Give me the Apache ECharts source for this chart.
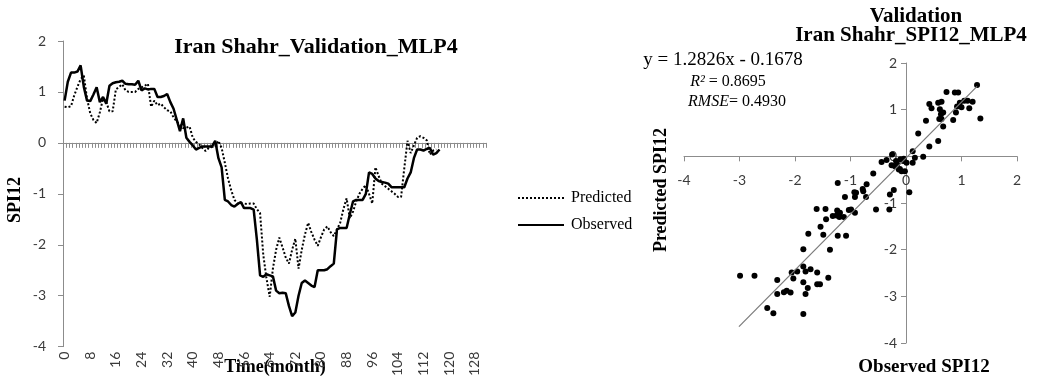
<!DOCTYPE html>
<html>
<head>
<meta charset="utf-8">
<script src="https://cdn.jsdelivr.net/npm/echarts@6/dist/echarts.min.js"></script>
<style>
html,body{margin:0;padding:0;background:#fff;}
#chart{width:1048px;height:379px;}
</style>
</head>
<body>
<div id="chart"></div>
<script>
// ---- Time series (left chart) ----
var monthCount = 132; // category slots 0..131 on the time axis
var observed = [0.83,1.20,1.38,1.38,1.40,1.52,1.10,0.83,0.82,0.95,1.09,0.80,0.90,0.77,1.12,1.17,1.19,1.20,1.22,1.16,
1.15,1.15,1.14,1.22,1.03,1.07,1.05,1.06,1.06,0.90,0.90,0.92,0.96,0.80,0.67,0.45,0.23,0.48,0.10,0.02,
-0.05,-0.13,-0.10,-0.07,-0.07,-0.07,-0.07,0.04,-0.30,-0.48,-1.12,-1.15,-1.22,-1.25,-1.20,-1.16,-1.28,-1.28,-1.28,-1.31,
-1.90,-2.60,-2.63,-2.58,-2.60,-2.62,-2.90,-2.95,-2.94,-2.95,-3.20,-3.40,-3.33,-3.00,-2.75,-2.70,-2.75,-2.80,-2.83,-2.50,
-2.50,-2.50,-2.48,-2.42,-2.37,-1.70,-1.67,-1.67,-1.67,-1.40,-1.15,-1.12,-1.12,-1.12,-1.00,-0.58,-0.61,-0.70,-0.75,-0.77,
-0.78,-0.80,-0.87,-0.87,-0.87,-0.87,-0.87,-0.70,-0.58,-0.30,-0.13,-0.13,-0.15,-0.12,-0.10,-0.23,-0.20,-0.13];
var predicted = [0.71,0.70,0.72,0.93,1.10,1.25,1.32,0.87,0.58,0.45,0.39,0.60,0.87,0.80,0.62,0.62,1.05,1.10,1.15,1.03,
1.00,1.00,1.00,1.06,1.09,1.12,1.16,0.71,0.83,0.74,0.77,0.70,0.64,0.62,0.50,0.42,0.35,0.29,0.30,0.32,
0.10,0.02,-0.03,-0.10,-0.16,-0.10,-0.08,-0.06,0.04,-0.10,-0.39,-0.70,-0.93,-1.12,-1.19,-1.19,-1.19,-1.20,-1.19,-1.19,
-1.30,-1.38,-2.20,-2.66,-3.02,-2.47,-2.10,-1.86,-2.05,-2.25,-2.37,-2.10,-1.88,-2.47,-2.10,-1.80,-1.57,-1.75,-1.90,-2.02,
-1.85,-1.70,-1.64,-1.75,-1.83,-1.70,-1.57,-1.30,-1.09,-1.48,-1.35,-1.15,-1.00,-0.90,-0.83,-1.00,-1.19,-0.48,-0.65,-0.80,
-0.85,-0.90,-0.95,-1.00,-1.06,-1.06,-0.50,0.04,-0.20,-0.05,0.10,0.13,0.10,0.05,-0.23,-0.15,-0.13];
var timeTicks = [-4,-3,-2,-1,0,1,2];

// ---- Scatter (right chart) ----
var scatterX = [-2.99,-2.73,-2.32,-2.32,-2.50,-2.39,-2.20,-2.15,-2.08,-2.06,-2.03,-1.96,-1.85,-1.85,-1.85,-1.85,-1.81,-1.81,-1.77,-1.72,
-1.76,-1.60,-1.60,-1.55,-1.40,-1.61,-1.45,-1.54,-1.49,-1.37,-1.44,-1.32,-1.25,-1.20,-1.24,-1.19,-1.12,-1.23,-1.08,-1.23,
-1.10,-1.03,-0.99,-0.92,-0.93,-0.90,-0.92,-0.78,-0.77,-0.72,-0.71,-0.59,-0.54,-0.30,-0.29,-0.22,-0.44,-0.35,-0.25,-0.26,
-0.18,-0.16,-0.13,-0.10,-0.05,-0.08,-0.02,0.06,0.12,-0.20,-0.04,0.01,-0.11,
1.28,0.73,0.88,0.94,0.42,0.46,0.58,0.64,0.61,0.63,0.64,0.67,0.60,0.85,0.90,0.92,0.97,1.00,1.05,1.11,1.14,1.20,1.34,0.36,0.67,0.22,0.58,0.42,0.12,0.31,0.16];
var scatterY = [-2.56,-2.56,-2.65,-2.95,-3.25,-3.36,-2.91,-2.88,-2.92,-2.49,-2.62,-2.47,-1.99,-2.36,-2.70,-3.38,-2.47,-2.95,-2.82,-2.42,
-1.66,-2.49,-2.74,-2.74,-2.60,-1.13,-1.13,-1.51,-1.68,-2.00,-1.35,-1.28,-1.27,-1.30,-1.16,-1.21,-1.30,-1.70,-1.70,-0.57,
-0.87,-1.15,-1.14,-1.21,-0.77,-0.78,-0.87,-0.70,-0.75,-0.87,-0.60,-0.37,-1.14,-1.14,-0.82,-0.72,-0.12,-0.08,0.04,-0.19,
-0.10,-0.17,-0.28,-0.06,-0.10,-0.32,-0.32,-0.77,-0.14,-0.21,-0.05,-0.14,-0.27,
1.53,1.38,1.37,1.37,1.12,1.03,1.15,1.17,1.01,0.90,0.80,0.94,0.80,0.78,0.94,1.07,1.15,1.05,1.19,1.19,1.03,1.17,0.81,0.76,0.64,0.49,0.33,0.21,0.11,-0.01,-0.03];
var trendX = [-3.01, 1.28];
var trendY = [-3.65, 1.50];
var scatterTicksX = [-4,-3,-2,-1,0,1,2];
var scatterTicksY = [-4,-3,-2,-1,0,1,2];

var months = [];
for (var i = 0; i < monthCount; i++) months.push(String(i));
var scatterData = scatterX.map(function (x, k) { return [x, scatterY[k]]; });
var trendData = trendX.map(function (x, k) { return [x, trendY[k]]; });

var SERIF = '"Liberation Serif", "Times New Roman", serif';
var SANS = 'Lato, "Liberation Sans", sans-serif';
var axisGray = '#8c8c8c';
var labelColor = '#3a3a3a';

// right plot box (px) and where its zero lines fall, for placing the axes through the origin
var rg = {left: 684, top: 63, width: 333, height: 280};
var xMin = scatterTicksX[0], xMax = scatterTicksX[scatterTicksX.length - 1];
var yMin = scatterTicksY[0], yMax = scatterTicksY[scatterTicksY.length - 1];
var xAxisOffset = -rg.height * (0 - yMin) / (yMax - yMin);
var yAxisOffset = -rg.width * (0 - xMin) / (xMax - xMin);

var chart = echarts.init(document.getElementById('chart'), null, {renderer: 'canvas'});
chart.setOption({
  animation: false,
  backgroundColor: '#fff',
  legend: {
    orient: 'vertical',
    left: 512, top: 185,
    itemWidth: 46, itemHeight: 14, itemGap: 11,
    data: ['Predicted', 'Observed'],
    itemStyle: {opacity: 0},
    textStyle: {fontFamily: SERIF, fontSize: 16, color: '#000', padding: [0,0,0,2]}
  },
  grid: [
    {left: 63, top: 41, width: 423, height: 312, containLabel: false},
    {left: rg.left, top: rg.top, width: rg.width, height: rg.height, containLabel: false}
  ],
  xAxis: [
    {
      gridIndex: 0, type: 'category', data: months, boundaryGap: true,
      axisLine: {onZero: true, lineStyle: {color: axisGray, width: 1}},
      axisTick: {show: true, interval: 0, length: 5, lineStyle: {color: axisGray}},
      axisLabel: {interval: 7, rotate: 90, margin: 5, fontFamily: SANS, fontSize: 14, color: labelColor},
      splitLine: {show: false}
    },
    {
      gridIndex: 1, type: 'value', min: xMin, max: xMax, interval: 1,
      position: 'bottom', offset: xAxisOffset,
      axisLine: {onZero: false, lineStyle: {color: axisGray, width: 1}},
      axisTick: {show: true, length: 5, lineStyle: {color: axisGray}},
      axisLabel: {margin: 17, fontFamily: SANS, fontSize: 14, color: labelColor},
      splitLine: {show: false}
    }
  ],
  yAxis: [
    {
      gridIndex: 0, type: 'value', min: timeTicks[0], max: timeTicks[timeTicks.length-1], interval: 1,
      axisLine: {show: true, onZero: false, lineStyle: {color: axisGray, width: 1}},
      axisTick: {show: true, length: 5, lineStyle: {color: axisGray}},
      axisLabel: {margin: 17, fontFamily: SANS, fontSize: 14, color: labelColor},
      splitLine: {show: false}
    },
    {
      gridIndex: 1, type: 'value', min: yMin, max: yMax, interval: 1,
      position: 'left', offset: yAxisOffset,
      axisLine: {show: true, onZero: false, lineStyle: {color: axisGray, width: 1}},
      axisTick: {show: true, length: 5, lineStyle: {color: axisGray}},
      axisLabel: {margin: 9, fontFamily: SANS, fontSize: 14, color: labelColor},
      splitLine: {show: false}
    }
  ],
  series: [
    {
      name: 'Predicted', type: 'line', xAxisIndex: 0, yAxisIndex: 0, data: predicted,
      symbol: 'none', showSymbol: false,
      lineStyle: {color: '#000', width: 2, type: [2, 2]},
      itemStyle: {color: '#000'}
    },
    {
      name: 'Observed', type: 'line', xAxisIndex: 0, yAxisIndex: 0, data: observed,
      symbol: 'none', showSymbol: false,
      lineStyle: {color: '#000', width: 2.5},
      itemStyle: {color: '#000'}
    },
    {
      name: 'Trend', type: 'line', xAxisIndex: 1, yAxisIndex: 1, data: trendData,
      symbol: 'none', showSymbol: false,
      lineStyle: {color: '#7a7a7a', width: 1.2}
    },
    {
      name: 'Scatter', type: 'scatter', xAxisIndex: 1, yAxisIndex: 1, data: scatterData,
      symbol: 'circle', symbolSize: 6,
      itemStyle: {color: '#000', opacity: 1}
    }
  ],
  graphic: [
    {type: 'text', x: 316, y: 47, style: {text: 'Iran Shahr_Validation_MLP4', font: 'bold 22px ' + SERIF, fill: '#000', align: 'center', verticalAlign: 'middle'}},
    {type: 'text', x: 275, y: 367, style: {text: 'Time(month)', font: 'bold 18px ' + SERIF, fill: '#000', align: 'center', verticalAlign: 'middle'}},
    {type: 'text', x: 15, y: 200, rotation: Math.PI / 2, style: {text: 'SPI12', font: 'bold 18px ' + SERIF, fill: '#000', align: 'center', verticalAlign: 'middle'}},
    {type: 'text', x: 916, y: 17, style: {text: 'Validation', font: 'bold 21px ' + SERIF, fill: '#000', align: 'center', verticalAlign: 'middle'}},
    {type: 'text', x: 911, y: 36, style: {text: 'Iran Shahr_SPI12_MLP4', font: 'bold 21px ' + SERIF, fill: '#000', align: 'center', verticalAlign: 'middle'}},
    {type: 'text', x: 924, y: 367, style: {text: 'Observed SPI12', font: 'bold 19px ' + SERIF, fill: '#000', align: 'center', verticalAlign: 'middle'}},
    {type: 'text', x: 661, y: 190, rotation: Math.PI / 2, style: {text: 'Predicted SPI12', font: 'bold 18px ' + SERIF, fill: '#000', align: 'center', verticalAlign: 'middle'}},
    {type: 'text', x: 723, y: 60, style: {text: 'y = 1.2826x - 0.1678', font: '19px ' + SERIF, fill: '#000', align: 'center', verticalAlign: 'middle'}},
    {type: 'text', x: 728, y: 82, style: {
      text: '{i|R²} = 0.8695', fill: '#000', align: 'center', verticalAlign: 'middle',
      fontFamily: SERIF, fontSize: 16,
      rich: {i: {fontStyle: 'italic', fontFamily: SERIF, fontSize: 16, fill: '#000'}}
    }},
    {type: 'text', x: 737, y: 102, style: {
      text: '{i|RMSE}= 0.4930', fill: '#000', align: 'center', verticalAlign: 'middle',
      fontFamily: SERIF, fontSize: 16,
      rich: {i: {fontStyle: 'italic', fontFamily: SERIF, fontSize: 16, fill: '#000'}}
    }}
  ]
});
</script>
</body>
</html>
